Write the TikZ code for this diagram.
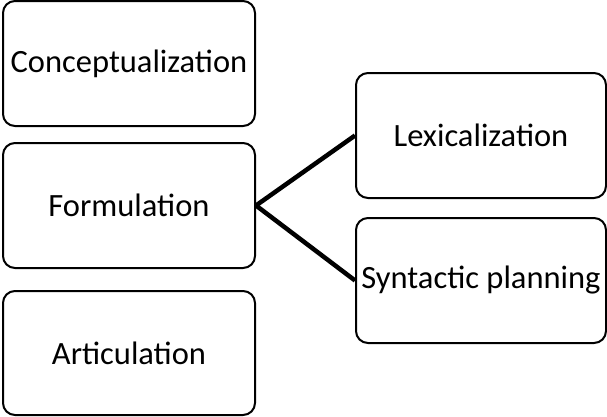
\documentclass[tikz,border=0pt]{standalone}
\usepackage{fontspec}
\setmainfont{Carlito}
\begin{document}
\begin{tikzpicture}[x=1pt,y=1pt,
  box/.style={draw=black, line width=2pt, rounded corners=12pt, fill=white,
    inner sep=0pt, minimum width=252pt, minimum height=125pt,
    font=\fontsize{32.5}{38}\selectfont},
  rbox/.style={box, minimum width=250pt},
  link/.style={draw=black, line width=4.5pt}]
\useasboundingbox (0,0) rectangle (607,-416);
\node[box] (con) at (129,-63.5) {Conceptualization};
\node[box] (form) at (129,-205.5) {Formulation};
\node[box, minimum height=124pt] (art) at (129,-353) {Articulation};
\node[rbox] (lex) at (481,-135.5) {Lexicalization};
\node[rbox] (syn) at (481,-280.5) {Syntactic planning};
\draw[link] (form.east) -- (lex.west);
\draw[link] (form.east) -- (syn.west);
\end{tikzpicture}
\end{document}
